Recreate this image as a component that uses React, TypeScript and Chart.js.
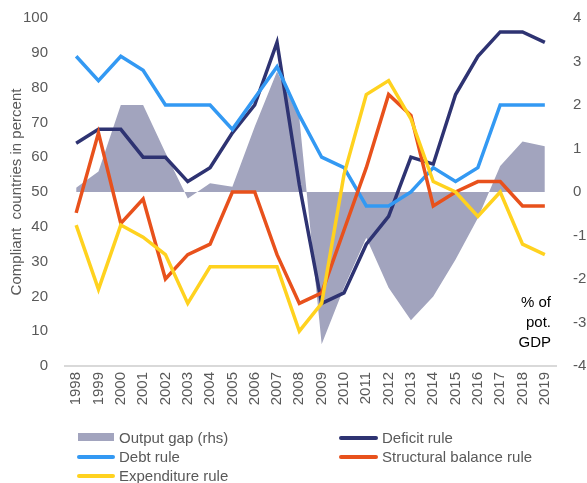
import React, { useEffect, useRef } from "react";
import { Chart, registerables } from "chart.js";

Chart.register(...registerables);

const years = ["1998","1999","2000","2001","2002","2003","2004","2005","2006","2007","2008","2009","2010","2011","2012","2013","2014","2015","2016","2017","2018","2019"];
const outputGap = [0.1, 0.47, 2, 2, 0.9, -0.15, 0.2, 0.12, 1.5, 2.77, 1.7, -3.5, -2.2, -1.05, -2.2, -2.95, -2.4, -1.55, -0.6, 0.6, 1.16, 1.05];
const deficitRule = [64, 68, 68, 60, 60, 53, 57, 67, 75, 93, 52, 18, 21, 35, 43, 60, 58, 78, 89, 96, 96, 93];
const debtRule = [89, 82, 89, 85, 75, 75, 75, 68, 77, 86, 72, 60, 57, 46, 46, 50, 57, 53, 57, 75, 75, 75];
const structuralRule = [44, 67, 41, 48, 25, 32, 35, 50, 50, 32, 18, 21, 39, 57, 78, 72, 46, 50, 53, 53, 46, 46];
const expenditureRule = [40.5, 22, 40.5, 37, 32, 18, 28.5, 28.5, 28.5, 28.5, 10, 18, 55, 78, 82, 71, 53, 50, 43, 50, 35, 32];

const GRAY = "#A2A4BE";
const NAVY = "#2E3372";
const BLUE = "#3399F3";
const ORANGE = "#E8511C";
const YELLOW = "#FFD21F";
const TXT = "#595959";
const FONT = "'Liberation Sans', Arial, sans-serif";

export default function App() {
  const ref = useRef<HTMLCanvasElement | null>(null);

  useEffect(() => {
    document.body.style.margin = "0";
    const ctx = ref.current!.getContext("2d")!;
    const lineDs = (label: string, data: number[], color: string, order: number) => ({
      type: "line" as const,
      label,
      data,
      borderColor: color,
      backgroundColor: color,
      borderWidth: 3.5,
      pointRadius: 0,
      tension: 0,
      fill: false,
      yAxisID: "y",
      order,
    });
    const fitV = (w: number) => (s: any) => {
      s.width = w;
      s.paddingTop = 0;
      s.paddingBottom = 0;
    };
    const chart = new Chart(ctx, {
      type: "line",
      data: {
        labels: years,
        datasets: [
          {
            label: "Output gap (rhs)",
            data: outputGap,
            borderWidth: 0,
            borderColor: GRAY,
            backgroundColor: GRAY,
            pointRadius: 0,
            tension: 0,
            fill: "origin",
            yAxisID: "y1",
            order: 5,
          },
          lineDs("Deficit rule", deficitRule, NAVY, 4),
          lineDs("Debt rule", debtRule, BLUE, 3),
          lineDs("Structural balance rule", structuralRule, ORANGE, 2),
          lineDs("Expenditure rule", expenditureRule, YELLOW, 1),
        ],
      },
      options: {
        responsive: false,
        animation: false,
        layout: { padding: { top: 18, left: 0, right: 0, bottom: 0 } },
        plugins: { legend: { display: false }, tooltip: { enabled: false } },
        scales: {
          x: {
            type: "category",
            offset: true,
            grid: { display: false, drawTicks: false, tickLength: 0 },
            border: { display: true, color: "#D9D9D9", width: 2 },
            ticks: {
              autoSkip: false,
              maxRotation: 90,
              minRotation: 90,
              padding: 6,
              color: TXT,
              font: { family: FONT, size: 15 },
            },
            afterFit: (s: any) => { s.height = 117; s.paddingLeft = 0; s.paddingRight = 0; },
          },
          y: {
            position: "left",
            min: 0,
            max: 100,
            grid: { display: false, drawTicks: false, tickLength: 0 },
            border: { display: false },
            ticks: { stepSize: 10, padding: 17, color: TXT, font: { family: FONT, size: 15 } },
            title: {
              display: true,
              text: "Compliant  countries in percent",
              color: TXT,
              font: { family: FONT, size: 15 },
              padding: { top: 8, bottom: 0 },
            },
            afterFit: fitV(65),
          },
          y1: {
            position: "right",
            min: -4,
            max: 4,
            grid: { display: false, drawTicks: false, tickLength: 0 },
            border: { display: false },
            ticks: { stepSize: 1, padding: 17, color: TXT, font: { family: FONT, size: 15 } },
            afterFit: fitV(31),
          },
        },
      },
    } as any);
    return () => chart.destroy();
  }, []);

  const legendText: React.CSSProperties = {
    position: "absolute",
    fontFamily: FONT,
    fontSize: 15,
    color: TXT,
    lineHeight: "18px",
    whiteSpace: "nowrap",
  };
  const items = [
    { label: "Output gap (rhs)", color: GRAY, box: true, sx: 78, sw: 36, tx: 119, cy: 438 },
    { label: "Deficit rule", color: NAVY, box: false, sx: 339, sw: 39, tx: 382, cy: 438 },
    { label: "Debt rule", color: BLUE, box: false, sx: 77, sw: 38, tx: 119, cy: 457 },
    { label: "Structural balance rule", color: ORANGE, box: false, sx: 339, sw: 39, tx: 382, cy: 457 },
    { label: "Expenditure rule", color: YELLOW, box: false, sx: 77, sw: 38, tx: 119, cy: 476 },
  ];

  return (
    <div style={{ position: "absolute", left: 0, top: 0, width: 587, height: 483, background: "#fff" }}>
      <canvas ref={ref} width={587} height={483} style={{ position: "absolute", left: 0, top: 0, width: 587, height: 483 }} />
      <div
        style={{
          position: "absolute",
          left: 451,
          top: 292,
          width: 100,
          textAlign: "right",
          fontFamily: FONT,
          fontSize: 15,
          lineHeight: "20px",
          color: "#000",
        }}
      >
        % of<br />pot.<br />GDP
      </div>
      {items.map((it) => (
        <React.Fragment key={it.label}>
          <div
            style={{
              position: "absolute",
              left: it.sx,
              top: it.box ? it.cy - 5 : it.cy - 2,
              width: it.sw,
              height: it.box ? 8 : 4,
              borderRadius: it.box ? 0 : 2,
              background: it.color,
            }}
          />
          <div style={{ ...legendText, left: it.tx, top: it.cy - 9 }}>{it.label}</div>
        </React.Fragment>
      ))}
    </div>
  );
}
